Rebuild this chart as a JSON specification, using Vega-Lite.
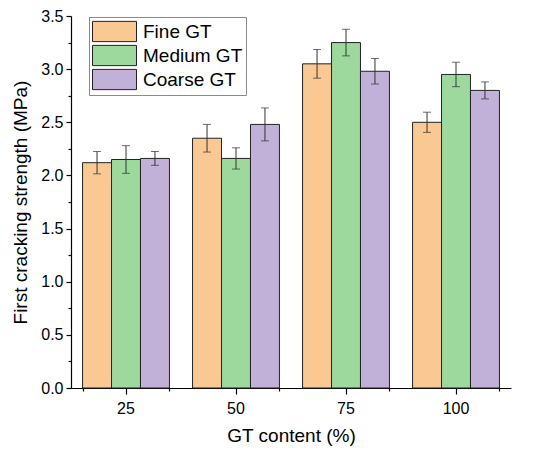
{
  "$schema": "https://vega.github.io/schema/vega-lite/v6.json",
  "width": 440,
  "height": 372,
  "autosize": "none",
  "padding": {"left": 71, "top": 16, "right": 39, "bottom": 65},
  "config": {
    "view": {"stroke": null},
    "font": "Liberation Sans",
    "axis": {
      "domainColor": "#000000",
      "domainWidth": 1.2,
      "tickColor": "#000000",
      "tickWidth": 1.2,
      "labelColor": "#000000",
      "titleColor": "#000000",
      "labelFontSize": 16,
      "titleFontSize": 19,
      "titleFontWeight": "normal",
      "titleLimit": 500,
      "grid": false
    },
    "legend": {
      "orient": "none",
      "legendX": 18,
      "legendY": 1,
      "padding": 3,
      "strokeColor": "#8a8a8a",
      "fillColor": "#ffffff",
      "symbolType": "M-1,-0.92H3V0.92H-1Z",
      "symbolSize": 484,
      "symbolStrokeColor": "#222222",
      "symbolStrokeWidth": 1,
      "symbolOpacity": 1,
      "labelFontSize": 19,
      "labelColor": "#000000",
      "labelOffset": 28,
      "rowPadding": -5
    }
  },
  "data": {
    "values": [
      {"content": "25", "type": "Fine GT", "value": 2.12, "err": 0.105},
      {"content": "25", "type": "Medium GT", "value": 2.15, "err": 0.13},
      {"content": "25", "type": "Coarse GT", "value": 2.16, "err": 0.065},
      {"content": "50", "type": "Fine GT", "value": 2.35, "err": 0.13},
      {"content": "50", "type": "Medium GT", "value": 2.16, "err": 0.1},
      {"content": "50", "type": "Coarse GT", "value": 2.48, "err": 0.155},
      {"content": "75", "type": "Fine GT", "value": 3.05, "err": 0.135},
      {"content": "75", "type": "Medium GT", "value": 3.25, "err": 0.125},
      {"content": "75", "type": "Coarse GT", "value": 2.98, "err": 0.12},
      {"content": "100", "type": "Fine GT", "value": 2.5, "err": 0.095},
      {"content": "100", "type": "Medium GT", "value": 2.95, "err": 0.115},
      {"content": "100", "type": "Coarse GT", "value": 2.8, "err": 0.08}
    ]
  },
  "layer": [
    {
      "mark": {"type": "bar", "stroke": "#222222", "strokeWidth": 1},
      "encoding": {
        "x": {
          "field": "content",
          "type": "nominal",
          "sort": ["25", "50", "75", "100"],
          "scale": {"paddingInner": 0.21, "paddingOuter": 0.105},
          "axis": {
            "title": "GT content (%)",
            "labelAngle": 0,
            "tickSize": 6,
            "labelPadding": 6,
            "titlePadding": 10,
            "orient": "bottom"
          }
        },
        "xOffset": {
          "field": "type",
          "type": "nominal",
          "sort": ["Fine GT", "Medium GT", "Coarse GT"],
          "scale": {"paddingInner": 0, "paddingOuter": 0}
        },
        "y": {
          "field": "value",
          "type": "quantitative",
          "scale": {"domain": [0, 3.5], "nice": false},
          "axis": {
            "title": "First cracking strength (MPa)",
            "values": [0, 0.25, 0.5, 0.75, 1, 1.25, 1.5, 1.75, 2, 2.25, 2.5, 2.75, 3, 3.25, 3.5],
            "labelExpr": "datum.value % 0.5 === 0 ? format(datum.value, '.1f') : ''",
            "tickSize": {"condition": {"test": "datum.value % 0.5 !== 0", "value": 3}, "value": 5},
            "labelPadding": 3,
            "titlePadding": 10
          }
        },
        "color": {
          "field": "type",
          "type": "nominal",
          "sort": ["Fine GT", "Medium GT", "Coarse GT"],
          "scale": {"range": ["#FAC893", "#9DD89C", "#C1B0D7"]},
          "legend": {"title": null}
        }
      }
    },
    {
      "mark": {"type": "errorbar", "ticks": {"size": 8}, "color": "#333333", "thickness": 1},
      "encoding": {
        "x": {
          "field": "content",
          "type": "nominal",
          "sort": ["25", "50", "75", "100"],
          "axis": {
            "tickBand": "extent",
            "labels": false,
            "domain": false,
            "tickSize": 3,
            "title": null,
            "orient": "bottom"
          }
        },
        "xOffset": {"field": "type", "type": "nominal", "sort": ["Fine GT", "Medium GT", "Coarse GT"]},
        "y": {
          "field": "value",
          "type": "quantitative",
          "axis": {
            "title": "First cracking strength (MPa)",
            "values": [0, 0.25, 0.5, 0.75, 1, 1.25, 1.5, 1.75, 2, 2.25, 2.5, 2.75, 3, 3.25, 3.5],
            "labelExpr": "datum.value % 0.5 === 0 ? format(datum.value, '.1f') : ''",
            "tickSize": {"condition": {"test": "datum.value % 0.5 !== 0", "value": 3}, "value": 5},
            "labelPadding": 3,
            "titlePadding": 10
          }
        },
        "yError": {"field": "err"}
      }
    }
  ],
  "resolve": {"axis": {"x": "independent"}}
}
